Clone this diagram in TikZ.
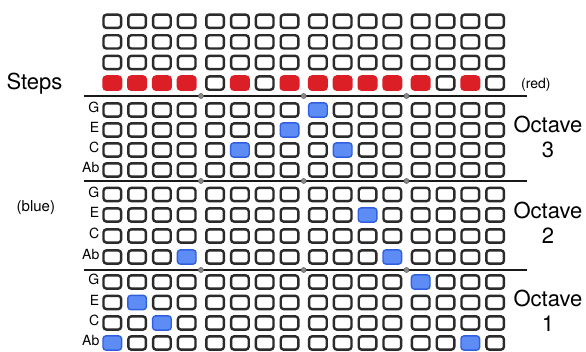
\documentclass[tikz,border=0pt]{standalone}
\usepackage{fontspec}
\setmainfont{TeX Gyre Heros}
\definecolor{cellline}{HTML}{2B2B2B}
\definecolor{stepred}{HTML}{DC1F26}
\definecolor{noteblue}{HTML}{5E8CF5}
\definecolor{noteblueline}{HTML}{2F5FE0}
\definecolor{dotgray}{HTML}{8A8A8A}
\tikzset{
  cellbase/.style={rectangle, rounded corners=3pt, inner sep=0pt, minimum width=17.6pt, minimum height=13.3pt, line width=2.4pt},
  cellW/.style={cellbase, draw=cellline, fill=white},
  cellR/.style={cellbase, draw=stepred, fill=stepred},
  cellB/.style={cellbase, minimum width=18.6pt, minimum height=14.3pt, line width=1.4pt, draw=noteblueline, fill=noteblue},
  cellsel/.style={cell#1},
  sepline/.style={line width=2pt, draw=black!90},
  sepdot/.style={circle, inner sep=0pt, minimum size=5pt, fill=dotgray, draw=black!60, line width=0.6pt},
  rowlabel/.style={anchor=base east, inner sep=0pt, font=\fontsize{14}{14}\selectfont},
  bigtext/.style={inner sep=0pt, font=\fontsize{22}{22}\selectfont},
  smalltext/.style={anchor=base west, inner sep=0pt}
}
\begin{document}
\begin{tikzpicture}[x=1pt,y=-1pt]
\useasboundingbox (0,0) rectangle (586,352);
% grid of cells
\foreach \r/\y/\pat in {
  1/21.3/{W,W,W,W,W,W,W,W,W,W,W,W,W,W,W,W},
  2/41.9/{W,W,W,W,W,W,W,W,W,W,W,W,W,W,W,W},
  3/62.5/{W,W,W,W,W,W,W,W,W,W,W,W,W,W,W,W},
  4/83.1/{R,R,R,R,W,R,W,R,R,R,R,R,R,W,R,W},
  5/110/{W,W,W,W,W,W,W,W,B,W,W,W,W,W,W,W},
  6/130/{W,W,W,W,W,W,W,B,W,W,W,W,W,W,W,W},
  7/150/{W,W,W,W,W,B,W,W,W,B,W,W,W,W,W,W},
  8/170/{W,W,W,W,W,W,W,W,W,W,W,W,W,W,W,W},
  9/194.5/{W,W,W,W,W,W,W,W,W,W,W,W,W,W,W,W},
  10/215/{W,W,W,W,W,W,W,W,W,W,B,W,W,W,W,W},
  11/236/{W,W,W,W,W,W,W,W,W,W,W,W,W,W,W,W},
  12/257/{W,W,W,B,W,W,W,W,W,W,W,B,W,W,W,W},
  13/282/{W,W,W,W,W,W,W,W,W,W,W,W,B,W,W,W},
  14/302.5/{W,B,W,W,W,W,W,W,W,W,W,W,W,W,W,W},
  15/323/{W,W,B,W,W,W,W,W,W,W,W,W,W,W,W,W},
  16/343/{B,W,W,W,W,W,W,W,W,W,W,W,W,W,B,W}}{
  \foreach \s [count=\i from 0] in \pat {
    \pgfmathsetmacro\xx{112.3+\i*24.8+floor(\i/4)*3.6}
    \node[cellsel/.expanded=\s] (c\r-\i) at (\xx,\y) {};
  }
}
% row labels
\foreach \r/\y/\t in {5/110/G,6/130/E,7/150/C,8/170/Ab,
                      9/194.5/G,10/215/E,11/236/C,12/257/Ab,
                      13/282/G,14/302.5/E,15/323/C,16/343/Ab}{
  \node[rowlabel] (lab\r) at (99.5,\y+2.8) {\t};
}
% separator lines with dots
\foreach \k/\y in {1/96,2/181,3/270}{
  \coordinate (sep\k a) at (84,\y);
  \coordinate (sep\k b) at (527,\y);
  \draw[sepline] (sep\k a) -- (sep\k b);
  \node[sepdot] (dot\k-1) at (200.9,\y) {};
  \node[sepdot] (dot\k-2) at (303.7,\y) {};
  \node[sepdot] (dot\k-3) at (406.5,\y) {};
}
% texts
\node[bigtext, anchor=base west] (steps) at (6.3,89.3) {Steps};
\node[smalltext, font=\fontsize{14}{14}\selectfont] (red) at (521,88.2) {(red)};
\node[smalltext, font=\fontsize{15}{15}\selectfont] (blue) at (16.5,212) {(blue)};
\node[bigtext, anchor=base] (oct3) at (548,132.7) {Octave};
\node[bigtext, anchor=base] (oct3n) at (548,157.4) {3};
\node[bigtext, anchor=base] (oct2) at (548,218.7) {Octave};
\node[bigtext, anchor=base] (oct2n) at (548,243.5) {2};
\node[bigtext, anchor=base] (oct1) at (548,307) {Octave};
\node[bigtext, anchor=base] (oct1n) at (548,331.8) {1};
\end{tikzpicture}
\end{document}
